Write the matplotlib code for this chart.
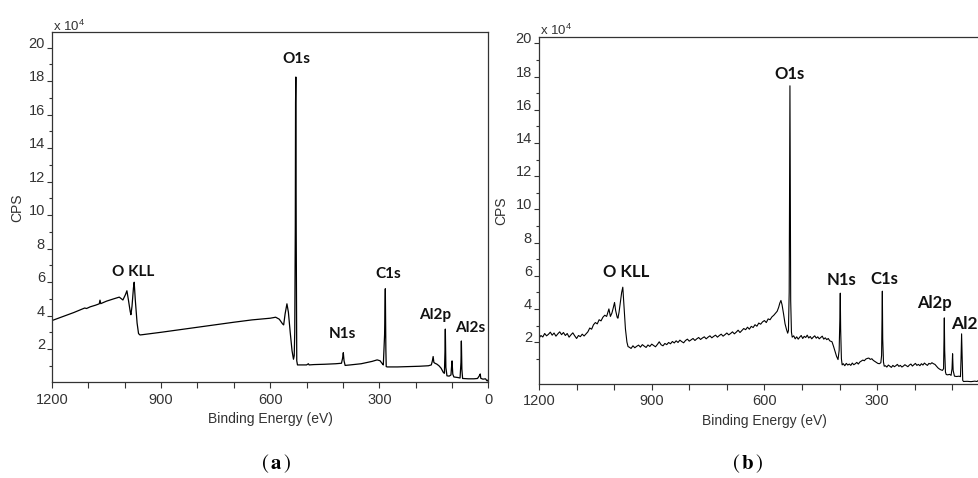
import matplotlib
matplotlib.use('Agg')
import matplotlib.pyplot as plt
from matplotlib.ticker import MultipleLocator, FixedLocator

plt.rcParams['font.family'] = ['Liberation Sans', 'DejaVu Sans']
plt.rcParams['mathtext.fontset'] = 'custom'
plt.rcParams['mathtext.rm'] = 'Liberation Sans'
plt.rcParams['mathtext.bf'] = 'Liberation Sans:bold'

# XPS survey (a): binding energy (eV) / intensity (CPS, x 10^4)
be_a = [
    1200, 1180, 1160, 1140, 1120, 1110, 1105, 1095, 1080, 1070,
    1068, 1066, 1050, 1030, 1015, 1005, 998, 994, 990, 985,
    983, 980, 976, 974, 971, 966, 962, 958, 950, 900,
    850, 800, 750, 700, 650, 600, 585, 575, 566, 563,
    559, 554, 550, 545, 540, 536, 534, 532.5, 531, 530.3,
    529.5, 528.5, 527, 525, 500, 495, 493, 480, 450, 420,
    404, 401, 399, 397, 394, 380, 350, 320, 306, 298,
    291, 289, 285.5, 283.5, 282, 281, 278, 250, 220, 190,
    165, 157, 154, 152, 150, 147, 142, 136, 130, 124,
    121, 119.5, 118.5, 117, 114, 108, 103, 101.5, 100, 98,
    95, 85, 78, 75.5, 74.4, 73, 71, 55, 40, 30,
    25, 22.5, 21, 15, 8, 4, 2, 0]
cps_a = [
    3.70, 3.86, 4.02, 4.18, 4.36, 4.45, 4.42, 4.52, 4.62, 4.70,
    4.92, 4.71, 4.86, 5.00, 5.10, 4.93, 5.25, 5.48, 4.95, 4.25,
    4.05, 4.55, 5.65, 5.99, 4.95, 3.55, 2.92, 2.84, 2.86, 3.00,
    3.15, 3.30, 3.45, 3.60, 3.74, 3.84, 3.90, 3.78, 3.50, 3.44,
    4.10, 4.70, 4.20, 3.00, 1.90, 1.39, 1.60, 3.0, 9.3, 16.7,
    18.25, 9.0, 1.3, 1.05, 1.05, 1.12, 1.05, 1.07, 1.09, 1.12,
    1.15, 1.45, 1.78, 1.30, 1.02, 1.05, 1.12, 1.26, 1.35, 1.30,
    1.10, 1.05, 2.85, 5.60, 2.0, 0.95, 0.93, 0.93, 0.95, 0.97,
    1.00, 1.05, 1.30, 1.55, 1.20, 1.15, 1.10, 1.00, 0.85, 0.60,
    0.55, 1.8, 3.19, 0.9, 0.40, 0.38, 0.45, 0.9, 1.29, 0.5,
    0.33, 0.30, 0.27, 1.2, 2.48, 0.8, 0.24, 0.22, 0.22, 0.24,
    0.40, 0.51, 0.25, 0.20, 0.22, 0.10, 0.14, 0.06]

# XPS survey (b)
be_b = [
    1200, 1195, 1190, 1185, 1180, 1175, 1170, 1165, 1160, 1155,
    1150, 1145, 1140, 1135, 1130, 1125, 1120, 1115, 1110, 1105,
    1100, 1095, 1090, 1085, 1080, 1075, 1070, 1065, 1060, 1055,
    1050, 1045, 1040, 1035, 1030, 1025, 1020, 1014, 1010, 1006,
    1002, 999, 996, 992, 990, 987, 983, 980, 977, 974,
    970, 966, 963, 960, 955, 950, 945, 940, 935, 930,
    925, 920, 915, 910, 905, 900, 895, 890, 885, 880,
    875, 870, 865, 860, 855, 850, 845, 840, 835, 830,
    825, 820, 815, 810, 805, 800, 795, 790, 785, 780,
    775, 770, 765, 760, 755, 750, 745, 740, 735, 730,
    725, 720, 715, 710, 705, 700, 695, 690, 685, 680,
    675, 670, 665, 660, 655, 650, 645, 640, 635, 630,
    625, 620, 615, 610, 605, 600, 595, 590, 585, 580,
    575, 570, 566, 562, 559, 556, 553, 549, 545, 541,
    538, 536, 534, 533, 532, 531, 530, 528, 526, 522,
    518, 514, 510, 506, 502, 498, 494, 490, 486, 482,
    478, 474, 470, 466, 462, 458, 454, 450, 446, 442,
    438, 434, 430, 426, 420, 416, 412, 408, 404, 401,
    399, 398, 397, 395, 393, 390, 386, 382, 378, 374,
    370, 366, 362, 358, 354, 350, 346, 342, 338, 334,
    330, 326, 322, 318, 314, 310, 306, 302, 298, 294,
    290, 288, 287, 286, 285, 283, 281, 278, 274, 270,
    266, 262, 258, 254, 250, 246, 242, 238, 234, 230,
    226, 222, 218, 214, 210, 206, 202, 198, 194, 190,
    186, 182, 178, 174, 170, 166, 162, 158, 154, 150,
    146, 142, 138, 134, 130, 126, 123, 122, 121, 120,
    118, 116, 112, 107, 103, 100.5, 99, 97.5, 94, 88,
    82, 78, 76.5, 75, 73.5, 72, 70, 60, 50, 40,
    34, 30, 27, 25, 20, 10, 0]
cps_b = [
    2.24, 2.40, 2.31, 2.52, 2.38, 2.47, 2.60, 2.42, 2.55, 2.36,
    2.50, 2.62, 2.45, 2.58, 2.40, 2.52, 2.30, 2.44, 2.56, 2.38,
    2.22, 2.40, 2.33, 2.48, 2.37, 2.50, 2.62, 2.85, 2.78, 3.05,
    3.18, 3.10, 3.35, 3.28, 3.50, 3.62, 3.55, 4.00, 3.55, 3.75,
    4.10, 4.39, 3.90, 3.50, 3.44, 3.80, 4.50, 5.00, 5.31, 4.20,
    2.80, 2.00, 1.73, 1.70, 1.62, 1.78, 1.66, 1.75, 1.82, 1.70,
    1.85, 1.76, 1.68, 1.83, 1.74, 1.88, 1.80, 1.72, 1.86, 2.02,
    1.84, 1.78, 1.92, 1.85, 1.98, 1.90, 2.04, 1.95, 2.08, 1.98,
    2.12, 2.03, 1.96, 2.10, 2.18, 2.06, 2.14, 2.22, 2.10, 2.20,
    2.28, 2.16, 2.25, 2.32, 2.20, 2.30, 2.38, 2.26, 2.35, 2.42,
    2.30, 2.40, 2.48, 2.36, 2.45, 2.55, 2.44, 2.52, 2.62, 2.50,
    2.60, 2.72, 2.58, 2.70, 2.82, 2.75, 2.90, 2.78, 2.95, 2.88,
    3.05, 2.96, 3.15, 3.08, 3.22, 3.30, 3.18, 3.40, 3.35, 3.52,
    3.62, 3.75, 3.86, 4.10, 4.35, 4.51, 4.25, 3.70, 3.10, 2.75,
    2.54, 2.70, 5.00, 11.3, 17.44, 10.8, 4.50, 2.60, 2.30, 2.38,
    2.20, 2.32, 2.18, 2.30, 2.40, 2.22, 2.35, 2.28, 2.42, 2.25,
    2.34, 2.20, 2.30, 2.38, 2.24, 2.32, 2.20, 2.28, 2.36, 2.18,
    2.26, 2.15, 2.22, 2.08, 2.02, 1.75, 1.45, 1.15, 0.95, 1.50,
    3.50, 4.95, 2.80, 1.00, 0.63, 0.70, 0.58, 0.72, 0.62, 0.68,
    0.60, 0.74, 0.64, 0.70, 0.78, 0.68, 0.80, 0.86, 0.92, 0.88,
    0.98, 1.02, 1.04, 0.96, 1.00, 0.90, 0.84, 0.78, 0.72, 0.70,
    0.76, 1.20, 3.00, 5.07, 2.20, 0.80, 0.55, 0.58, 0.50, 0.62,
    0.55, 0.48, 0.60, 0.52, 0.58, 0.66, 0.54, 0.60, 0.50, 0.56,
    0.64, 0.58, 0.52, 0.62, 0.68, 0.56, 0.64, 0.72, 0.60, 0.66,
    0.58, 0.70, 0.62, 0.74, 0.66, 0.60, 0.72, 0.68, 0.76, 0.70,
    0.66, 0.55, 0.45, 0.38, 0.33, 0.30, 0.40, 2.00, 3.46, 1.50,
    0.20, 0.05, 0.03, 0.06, 0.00, 0.40, 1.30, 0.30, -0.05, -0.07,
    -0.05, -0.08, 1.00, 2.50, 1.00, -0.30, -0.37, -0.36, -0.38, -0.35,
    -0.37, -0.30, -0.07, -0.30, -0.36, -0.37, -0.36]

x_major = [1200, 900, 600, 300, 0]
y_major = [2, 4, 6, 8, 10, 12, 14, 16, 18, 20]
y_minor = [1, 3, 5, 7, 9, 11, 13, 15, 17, 19]

peaks_a = ['O KLL', 'O1s', 'N1s', 'C1s', 'Al2p', 'Al2s']
peaks_b = ['O KLL', 'O1s', 'N1s', 'C1s', 'Al2p', 'Al2']  # last one is cut by the page edge

INK = '#333333'


def style_axes(ax, y_bottom, y_top, ylabel_x, x_labels):
    ax.set_xlim(1200, 0)
    ax.set_ylim(y_bottom, y_top)
    ax.set_xticks(x_major)
    ax.set_xticklabels(x_labels)
    ax.xaxis.set_minor_locator(MultipleLocator(100))
    ax.set_yticks(y_major)
    ax.set_yticklabels([str(v) for v in y_major])
    ax.yaxis.set_minor_locator(FixedLocator(y_minor))
    ax.tick_params(axis='x', which='both', direction='out', length=4.3, width=0.8,
                   color=INK, labelsize=10.5, labelcolor=INK, pad=3)
    ax.tick_params(axis='y', which='major', direction='out', length=3.6, width=0.8,
                   color=INK, labelsize=10.5, labelcolor=INK, pad=1.5)
    ax.tick_params(axis='y', which='minor', direction='out', length=2.2, width=0.8, color=INK)
    for lab in ax.get_yticklabels():
        lab.set_va('baseline')  # the numbers sit on top of their tick
    for sp in ax.spines.values():
        sp.set_color(INK)
        sp.set_linewidth(0.9)
    ax.set_xlabel('Binding Energy (eV)', fontsize=10, color=INK, labelpad=4)
    ax.set_ylabel('CPS', fontsize=10, color=INK)
    ax.yaxis.set_label_coords(ylabel_x, 0.5)
    ax.text(0.002, 1.004, r'x 10$^{4}$', transform=ax.transAxes, fontsize=9.5,
            color=INK, ha='left', va='baseline')


fig = plt.figure(figsize=(9.79, 4.78), dpi=100)
ax_a = fig.add_axes([0.0531, 0.1998, 0.4458, 0.7326])
ax_b = fig.add_axes([0.5506, 0.1967, 0.4604, 0.7266])  # right part runs off the page

ax_a.plot(be_a, cps_a, color='black', lw=0.9)
ax_b.plot(be_b, cps_b, color='black', lw=0.8)

style_axes(ax_a, 0, 20.92, -0.064, [str(v) for v in x_major])
style_axes(ax_b, -0.52, 20.4, -0.069, [str(v) for v in x_major[:-1]] + [''])

# peak labels
peak_font = dict(family='Lato', weight='bold', color='#111111', va='baseline')
pos_a = [(975.7, 6.34), (528.5, 19.11), (400.6, 2.65), (276, 6.24), (146.8, 3.78), (51, 3.04)]
for name, (x, y) in zip(peaks_a, pos_a):
    ax_a.text(x, y, name, ha='center', fontsize=11, **peak_font)
pos_b = [(967, 5.95), (533, 17.84), (396, 5.45), (280, 5.51), (147, 4.05)]
for name, (x, y) in zip(peaks_b[:5], pos_b):
    ax_b.text(x, y, name, ha='center', fontsize=12, **peak_font)
ax_b.text(104, 2.8, peaks_b[5], ha='left', fontsize=12.5, **peak_font)

# panel captions
fig.text(276 / 979, 0.031, r'$(\,\mathbf{a}\,)$', math_fontfamily='stix', fontsize=15,
         ha='center', va='center', color='black')
fig.text(748 / 979, 0.031, r'$(\,\mathbf{b}\,)$', math_fontfamily='stix', fontsize=15,
         ha='center', va='center', color='black')

fig.savefig('out.png', dpi=100)
